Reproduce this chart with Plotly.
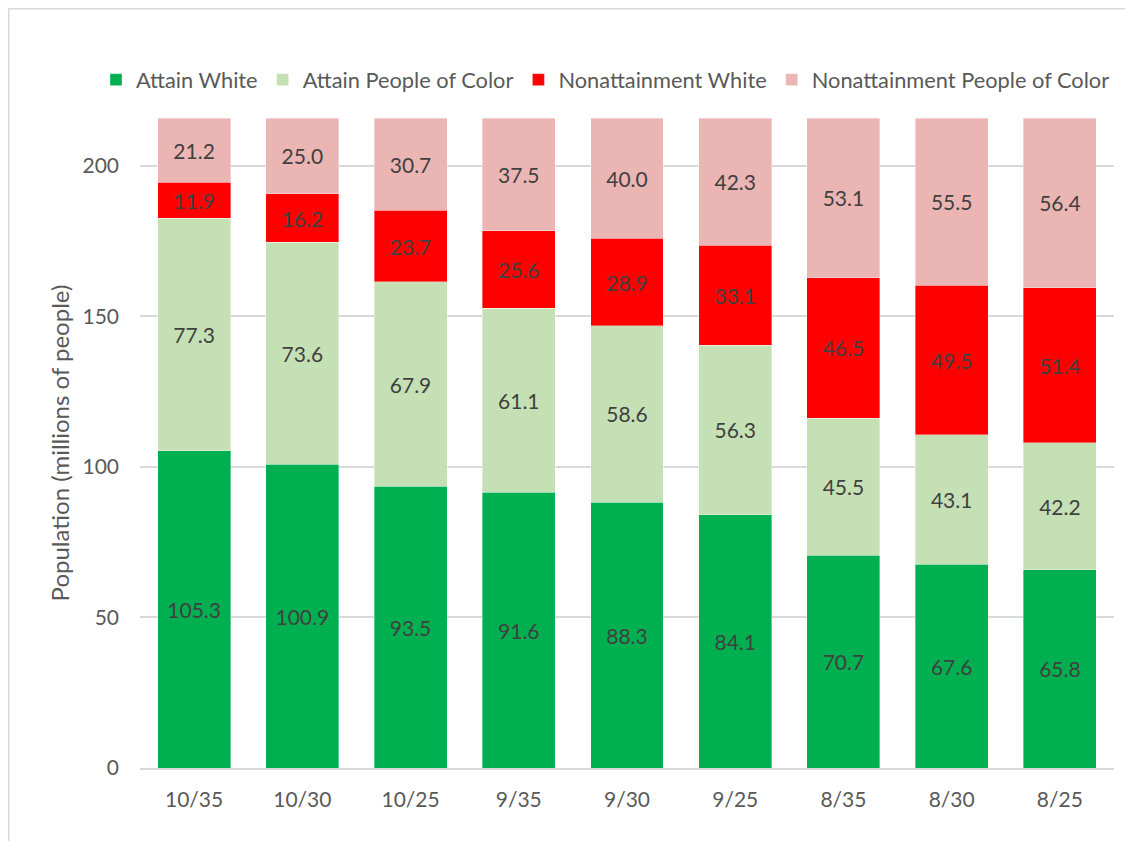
import plotly.graph_objects as go

categories = ["10/35", "10/30", "10/25", "9/35", "9/30", "9/25", "8/35", "8/30", "8/25"]
attain_white = [105.3, 100.9, 93.5, 91.6, 88.3, 84.1, 70.7, 67.6, 65.8]
attain_poc = [77.3, 73.6, 67.9, 61.1, 58.6, 56.3, 45.5, 43.1, 42.2]
nonattain_white = [11.9, 16.2, 23.7, 25.6, 28.9, 33.1, 46.5, 49.5, 51.4]
nonattain_poc = [21.2, 25.0, 30.7, 37.5, 40.0, 42.3, 53.1, 55.5, 56.4]
y_ticks = [0, 50, 100, 150, 200]

series = [
    ("Attain White", attain_white, "#00b050"),
    ("Attain People of Color", attain_poc, "#c5e0b4"),
    ("Nonattainment White", nonattain_white, "#ff0000"),
    ("Nonattainment People of Color", nonattain_poc, "#ebb5b3"),
]

FONT = "Lato, 'Open Sans', sans-serif"

fig = go.Figure()
for name, vals, color in series:
    fig.add_trace(go.Bar(
        name=name, x=categories, y=vals,
        marker=dict(color=color, line=dict(color="rgba(255,255,255,0.6)", width=0.6)),
        text=[f"{v:.1f}" for v in vals],
        textposition="inside", insidetextanchor="middle",
        constraintext="none",
        textfont=dict(family=FONT, size=21, color="#404040"),
        textangle=0,
        hoverinfo="skip",
    ))

ymax = max(a + b + c + d for a, b, c, d in zip(attain_white, attain_poc, nonattain_white, nonattain_poc))

L, T, PW, PH = 132, 110, 974, 650
W, H = 1133, 841

fig.update_layout(
    barmode="stack",
    bargap=0.326,
    width=W, height=H,
    margin=dict(l=L, r=W - L - PW, t=T, b=H - T - PH, autoexpand=False),
    paper_bgcolor="white", plot_bgcolor="white",
    font=dict(family=FONT, size=21, color="#595959"),
    legend=dict(
        orientation="h", xref="paper", x=(88 - L) / PW, xanchor="left",
        yref="paper", y=(T + PH - 72) / PH, yanchor="middle",
        font=dict(family=FONT, size=21.8, color="#595959"),
        itemclick=False, traceorder="normal",
    ),
    xaxis=dict(
        showline=True, linecolor="#d9d9d9", linewidth=1.5,
        ticks="", ticklabelstandoff=12,
        tickfont=dict(family=FONT, size=21, color="#595959"),
        showgrid=False,
    ),
    yaxis=dict(
        range=[0, ymax], tickvals=y_ticks,
        showgrid=True, gridcolor="#d9d9d9", gridwidth=1.5,
        zeroline=False, showline=False, ticks="",
        ticklabelstandoff=20,
        tickfont=dict(family=FONT, size=21, color="#595959"),
        title=dict(text="Population (millions of people)",
                   font=dict(family=FONT, size=24, color="#595959"), standoff=6),
    ),
    shapes=[dict(type="rect", xref="paper", yref="paper",
                 x0=(0 - L) / PW, x1=(W + 20 - L) / PW,
                 y0=-(H + 20 - T - PH) / PH, y1=(T + PH) / PH,
                 line=dict(color="#d9d9d9", width=3), layer="below")],
)

fig.write_html("out.html")
